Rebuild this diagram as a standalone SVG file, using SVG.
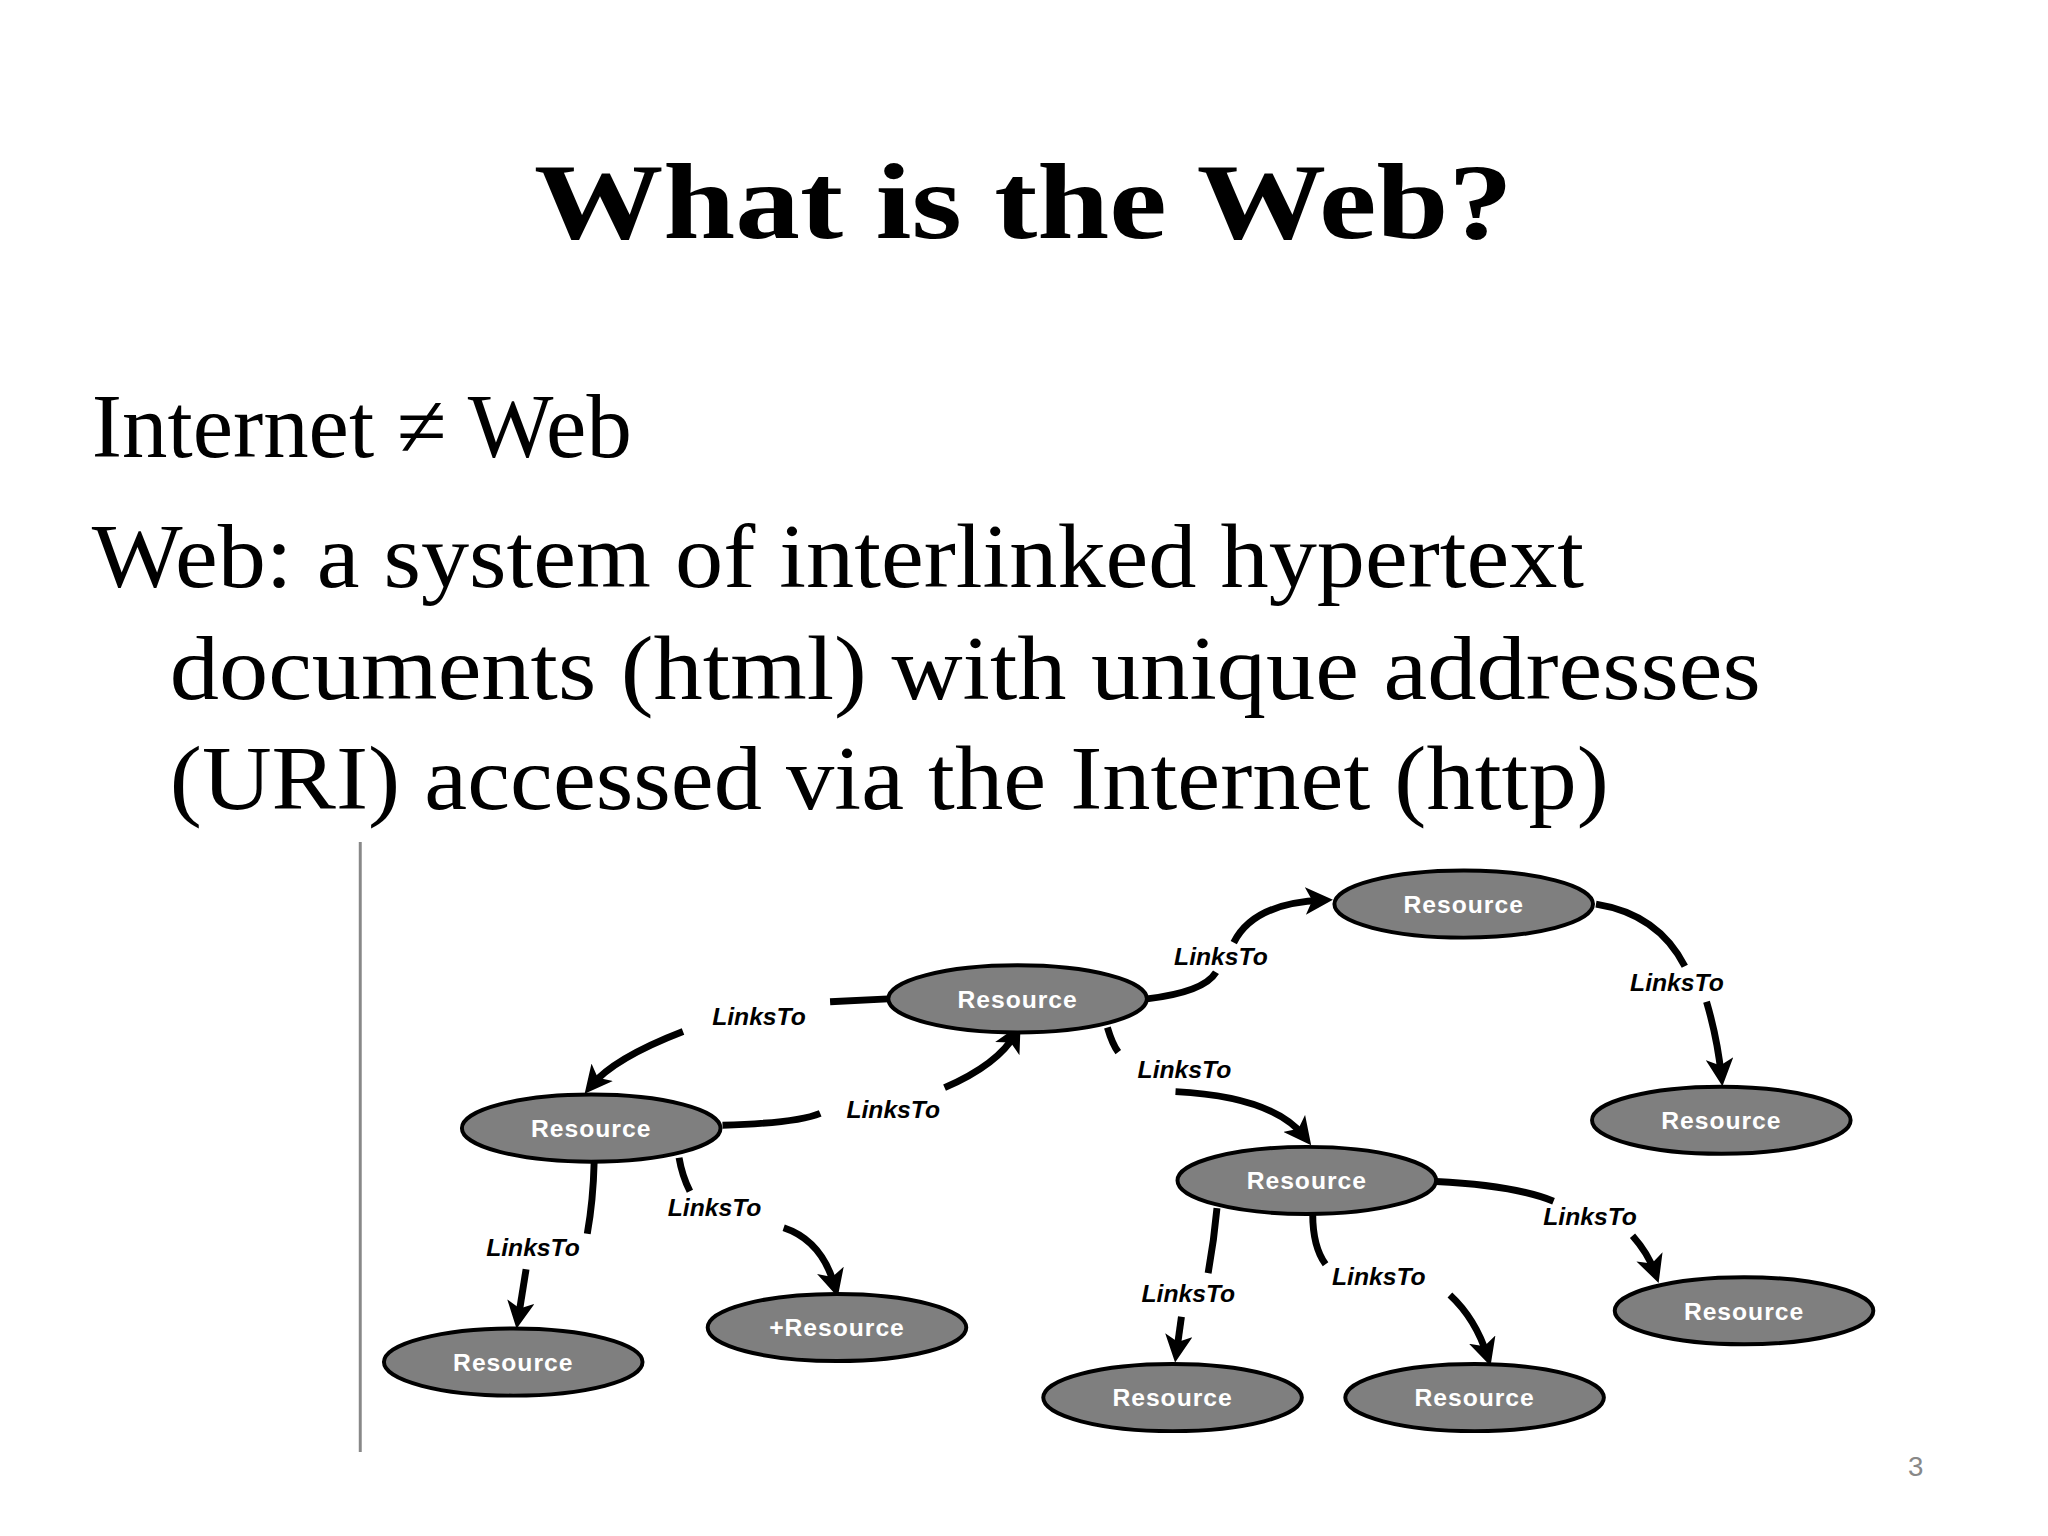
<svg xmlns="http://www.w3.org/2000/svg" width="2048" height="1536" viewBox="0 0 2048 1536">
<style>
.n ellipse{fill:#7f7f7f;stroke:#000;stroke-width:4}
.n text{fill:#fff;font-family:"Liberation Sans",Arial,sans-serif;font-weight:bold;font-size:25px;text-anchor:middle;letter-spacing:1px}
.e path{fill:none;stroke:#000;stroke-width:7}
.l{font-family:"Liberation Sans",Arial,sans-serif;font-weight:bold;font-style:italic;font-size:25px;text-anchor:middle;fill:#000}
.b{font-family:"Liberation Serif","Times New Roman",serif;font-size:92px;fill:#000}
</style>
<defs><marker id="a" markerWidth="4" markerHeight="4" refX="2.5" refY="2" orient="auto" markerUnits="strokeWidth"><path d="M0,0 L4,2 L0,4 L1,2 Z" fill="#000"/></marker></defs>
<rect width="2048" height="1536" fill="#fff"/>
<g transform="scale(0.987)">
<text x="1037" y="241" font-family="'Liberation Serif','Times New Roman',serif" font-weight="bold" font-size="110" text-anchor="middle" textLength="992" lengthAdjust="spacingAndGlyphs">What is the Web?</text>
<text class="b" x="93" y="463">Internet ≠ Web</text>
<text class="b" x="93" y="595" textLength="1512" lengthAdjust="spacingAndGlyphs">Web: a system of interlinked hypertext</text>
<text class="b" x="172" y="708" textLength="1612" lengthAdjust="spacingAndGlyphs">documents (html) with unique addresses</text>
<text class="b" x="172" y="820" textLength="1458" lengthAdjust="spacingAndGlyphs">(URI) accessed via the Internet (http)</text>
<line x1="365" y1="853" x2="365" y2="1471" stroke="#888" stroke-width="3"/>
<text x="1941" y="1495" font-family="'Liberation Sans',sans-serif" font-size="28" fill="#888" text-anchor="middle">3</text>
<g class="e" id="connectors">
<path d="M1162,1012 Q1220,1005 1232,985"/><path d="M1250,955 Q1270,915 1340,912" marker-end="url(#a)"/>
<path d="M1617,916 Q1680,926 1707,979"/><path d="M1729,1015 Q1740,1052 1744,1090" marker-end="url(#a)"/>
<path d="M900,1012 L841,1015"/><path d="M692,1045 Q622,1072 599,1100" marker-end="url(#a)"/>
<path d="M732,1140 Q807,1138 831,1128"/><path d="M957,1102 Q1012,1078 1029,1047" marker-end="url(#a)"/>
<path d="M1122,1041 Q1127,1058 1133,1066"/><path d="M1191,1106 Q1290,1111 1322,1152" marker-end="url(#a)"/>
<path d="M602,1177 Q601,1217 595,1250"/><path d="M533,1286 L525,1336" marker-end="url(#a)"/>
<path d="M688,1173 Q691,1191 699,1207"/><path d="M794,1244 Q833,1257 846,1304" marker-end="url(#a)"/>
<path d="M1455,1197 Q1535,1201 1574,1217"/><path d="M1654,1252 Q1670,1270 1677,1290" marker-end="url(#a)"/>
<path d="M1330,1230 Q1330,1263 1343,1281"/><path d="M1469,1312 Q1495,1336 1507,1374" marker-end="url(#a)"/>
<path d="M1233,1224 Q1230,1257 1224,1290"/><path d="M1197,1334 L1192,1370" marker-end="url(#a)"/>
</g>
<g id="labels">
<text class="l" x="1237" y="978">LinksTo</text>
<text class="l" x="1699" y="1004">LinksTo</text>
<text class="l" x="769" y="1039">LinksTo</text>
<text class="l" x="1200" y="1092">LinksTo</text>
<text class="l" x="905" y="1133">LinksTo</text>
<text class="l" x="724" y="1232">LinksTo</text>
<text class="l" x="540" y="1273">LinksTo</text>
<text class="l" x="1611" y="1241">LinksTo</text>
<text class="l" x="1397" y="1302">LinksTo</text>
<text class="l" x="1204" y="1319">LinksTo</text>
</g>
<g class="n" id="n1"><ellipse cx="1483" cy="916" rx="131" ry="34"/><text x="1483" y="925">Resource</text></g>
<g class="n" id="n2"><ellipse cx="1031" cy="1012" rx="131" ry="34"/><text x="1031" y="1021">Resource</text></g>
<g class="n" id="n3"><ellipse cx="599" cy="1143" rx="131" ry="34"/><text x="599" y="1152">Resource</text></g>
<g class="n" id="n4"><ellipse cx="1744" cy="1135" rx="131" ry="34"/><text x="1744" y="1144">Resource</text></g>
<g class="n" id="n5"><ellipse cx="1324" cy="1196" rx="131" ry="34"/><text x="1324" y="1205">Resource</text></g>
<g class="n" id="n6"><ellipse cx="1767" cy="1328" rx="131" ry="34"/><text x="1767" y="1337">Resource</text></g>
<g class="n" id="n7"><ellipse cx="520" cy="1380" rx="131" ry="34"/><text x="520" y="1389">Resource</text></g>
<g class="n" id="n8"><ellipse cx="848" cy="1345" rx="131" ry="34"/><text x="848" y="1354">+Resource</text></g>
<g class="n" id="n9"><ellipse cx="1188" cy="1416" rx="131" ry="34"/><text x="1188" y="1425">Resource</text></g>
<g class="n" id="n10"><ellipse cx="1494" cy="1416" rx="131" ry="34"/><text x="1494" y="1425">Resource</text></g>
</g>
</svg>
